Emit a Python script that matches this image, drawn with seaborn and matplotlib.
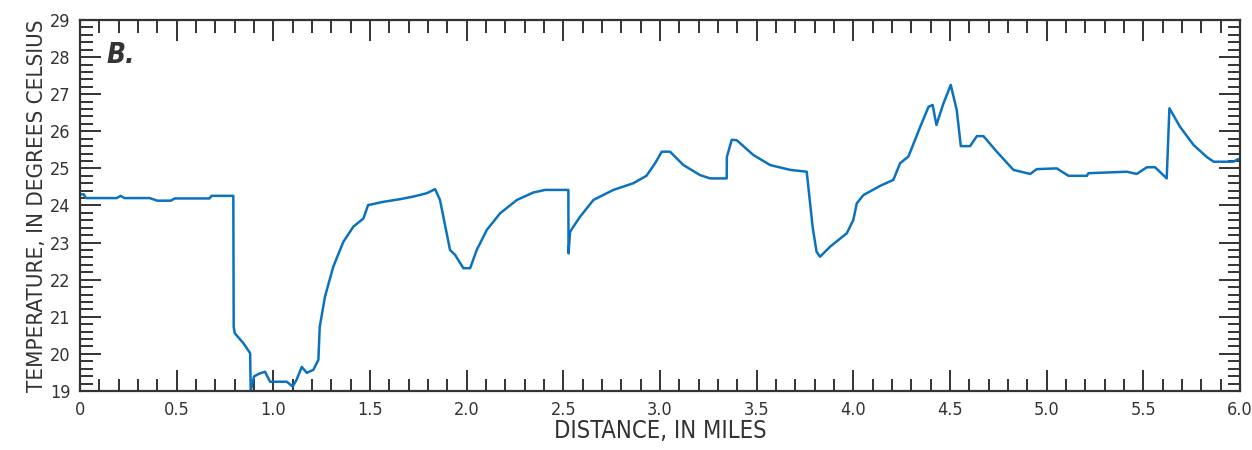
import numpy as np
import pandas as pd
import matplotlib
matplotlib.use("Agg")
import matplotlib.pyplot as plt
import seaborn as sns
from matplotlib.ticker import MultipleLocator

# Distance (miles) and temperature (deg C)
distance = [
    0.0, 0.02, 0.03, 0.19, 0.21, 0.23, 0.36, 0.40, 0.47, 0.49, 0.67, 0.68, 0.793,
    0.795, 0.80, 0.845, 0.88, 0.883, 0.90, 0.923, 0.957, 0.983, 1.07, 1.10, 1.12,
    1.147, 1.173, 1.207, 1.233, 1.24, 1.267, 1.31, 1.362, 1.414, 1.466, 1.49,
    1.57, 1.655, 1.724, 1.793, 1.837, 1.862, 1.914, 1.94, 1.983, 2.018, 2.052,
    2.104, 2.173, 2.26, 2.345, 2.406, 2.526, 2.527, 2.535, 2.552, 2.587, 2.656,
    2.759, 2.862, 2.93, 2.975, 3.009, 3.052, 3.121, 3.207, 3.259, 3.345, 3.346,
    3.371, 3.397, 3.483, 3.57, 3.673, 3.759, 3.79, 3.81, 3.828, 3.88, 3.93,
    3.966, 4.0, 4.018, 4.052, 4.139, 4.207, 4.242, 4.285, 4.346, 4.389, 4.41,
    4.43, 4.466, 4.504, 4.535, 4.556, 4.604, 4.639, 4.673, 4.742, 4.828, 4.915,
    4.949, 5.052, 5.113, 5.208, 5.216, 5.415, 5.466, 5.518, 5.561, 5.621, 5.635,
    5.69, 5.76, 5.83, 5.864, 5.966, 5.99, 6.0,
]
temperature = [
    24.30, 24.30, 24.20, 24.20, 24.26, 24.20, 24.20, 24.13, 24.13, 24.19, 24.19, 24.26, 24.26,
    20.73, 20.56, 20.29, 20.02, 19.0, 19.39, 19.46, 19.52, 19.25, 19.25, 19.12, 19.30,
    19.65, 19.49, 19.57, 19.84, 20.73, 21.54, 22.35, 23.02, 23.43, 23.65, 24.01,
    24.10, 24.17, 24.24, 24.33, 24.44, 24.15, 22.80, 22.67, 22.31, 22.31, 22.80,
    23.34, 23.79, 24.15, 24.35, 24.42, 24.42, 22.71, 23.29, 23.43, 23.70, 24.15,
    24.42, 24.60, 24.80, 25.14, 25.45, 25.45, 25.09, 24.82, 24.73, 24.73, 25.31,
    25.77, 25.76, 25.36, 25.09, 24.96, 24.91, 23.40, 22.75, 22.62, 22.89, 23.10,
    23.25, 23.61, 24.06, 24.28, 24.53, 24.69, 25.14, 25.32, 26.12, 26.66, 26.71,
    26.17, 26.75, 27.25, 26.57, 25.60, 25.60, 25.87, 25.87, 25.45, 24.96, 24.85,
    24.98, 25.00, 24.80, 24.80, 24.87, 24.91, 24.85, 25.03, 25.03, 24.73, 26.62,
    26.12, 25.63, 25.30, 25.18, 25.18, 25.25, 25.25,
]
xtick_vals = [0, 0.5, 1.0, 1.5, 2.0, 2.5, 3.0, 3.5, 4.0, 4.5, 5.0, 5.5, 6.0]
xtick_text = ["0", "0.5", "1.0", "1.5", "2.0", "2.5", "3.0", "3.5", "4.0",
              "4.5", "5.0", "5.5", "6.0"]

df = pd.DataFrame({"distance": distance, "temperature": temperature})

sns.set_style("ticks")
plt.rcParams["font.family"] = ["DejaVu Sans"]
plt.rcParams["font.stretch"] = "condensed"

ink = "#333333"
fig = plt.figure(figsize=(12.52, 4.5), dpi=100)
ax = fig.add_axes([0.0639, 0.1311, 0.9265, 0.8245])

sns.lineplot(data=df, x="distance", y="temperature", sort=False, estimator=None,
             color="#0b72bd", lw=1.8, ax=ax)

ax.set_xlim(0, 6.0)
ax.set_ylim(19, 29)
ax.set_xticks(xtick_vals)
ax.set_xticklabels(xtick_text)
ax.xaxis.set_minor_locator(MultipleLocator(0.1))
ax.yaxis.set_major_locator(MultipleLocator(1))
ax.yaxis.set_minor_locator(MultipleLocator(0.2))

ax.tick_params(which="both", direction="in", top=True, right=True,
               colors=ink, width=1.4, labelsize=13, labelcolor=ink)
ax.tick_params(which="major", length=15, pad=7)
ax.tick_params(which="minor", length=9)
for s in ax.spines.values():
    s.set_color(ink)
    s.set_linewidth(1.6)

ax.set_xlabel("DISTANCE, IN MILES", fontsize=17, color=ink, labelpad=0)
ax.set_ylabel("TEMPERATURE, IN DEGREES CELSIUS", fontsize=16, color=ink, labelpad=2)
ax.text(0.023, 0.905, "B.", transform=ax.transAxes, fontsize=20,
        fontweight="bold", fontstyle="italic", color=ink, va="center")

plt.savefig("out.png", dpi=100)
plt.close()
